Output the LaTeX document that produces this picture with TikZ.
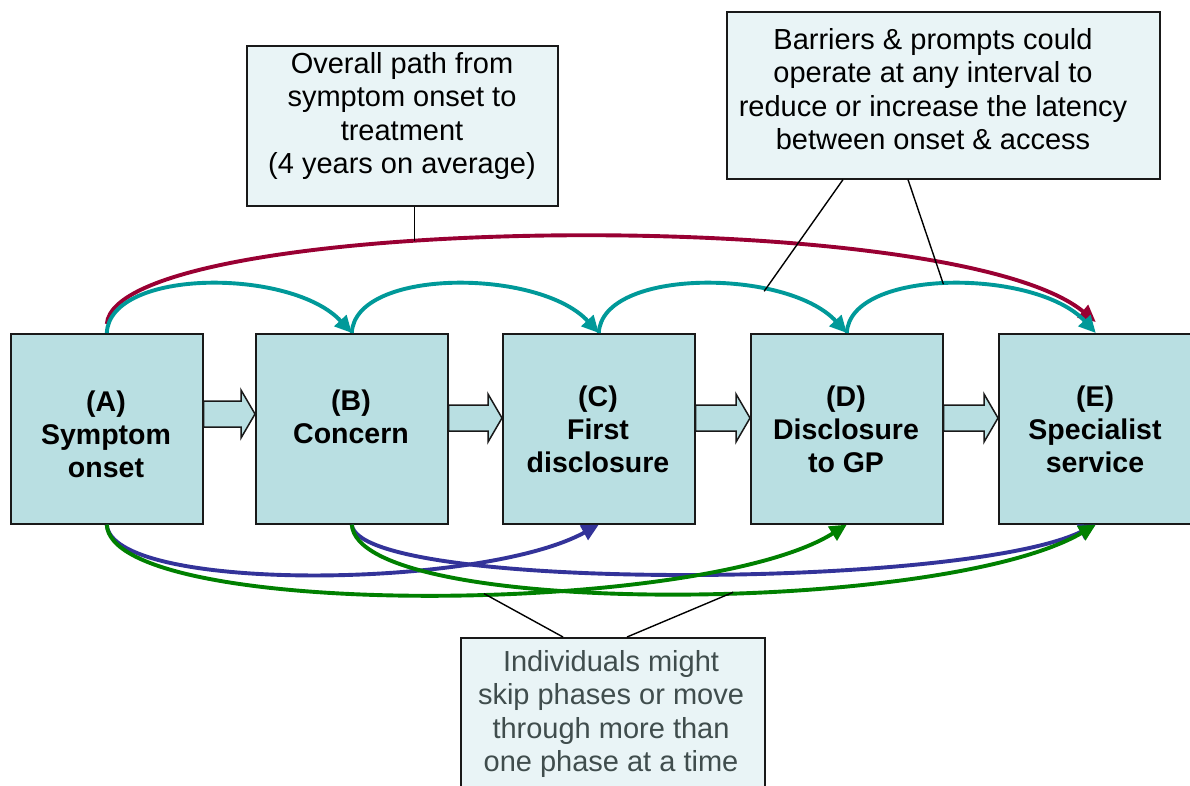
\documentclass[tikz,border=0pt]{standalone}
\usepackage{fontspec}
\setmainfont{Liberation Sans}
\usetikzlibrary{arrows.meta,calc}

\definecolor{stagefill}{HTML}{B9DFE2}
\definecolor{notefill}{HTML}{E9F4F6}
\definecolor{pathteal}{HTML}{009999}
\definecolor{pathred}{HTML}{990033}
\definecolor{pathblue}{HTML}{333399}
\definecolor{pathgreen}{HTML}{008000}
\definecolor{notegray}{HTML}{404D4D}

\tikzset{
  stage/.style={draw=black!90, line width=1.6pt, fill=stagefill,
    minimum width=192pt, minimum height=190pt, inner sep=0pt, anchor=north west},
  stagetext/.style={align=center, inner sep=0pt,
    font=\bfseries\fontsize{28.5}{33}\selectfont},
  note/.style={draw=black!90, line width=1.6pt, fill=notefill, inner sep=0pt,
    anchor=north west},
  notetext/.style={align=center, inner sep=0pt,
    font=\fontsize{29}{33.5}\selectfont},
  flow/.style={line width=3.9pt, -{Triangle[length=17pt,width=16pt]}},
  blockarr/.style={draw=black!90, line width=1.5pt, fill=stagefill, line join=miter},
  pointer/.style={draw=black, line width=1.4pt}
}

% wide block arrow from the east side of #1 to the west side of #2, on height #3
\newcommand\stagearrow[3]{%
  \path (#1.east |- 0,#3) coordinate (sa-#1) (#2.west |- 0,#3) coordinate (sb-#1);
  \draw[blockarr] ($(sa-#1)+(0,-13)$) -- ($(sb-#1)+(-14,-13)$) -- ($(sb-#1)+(-14,-24)$)
    -- (sb-#1) -- ($(sb-#1)+(-14,24)$) -- ($(sb-#1)+(-14,13)$) -- ($(sa-#1)+(0,13)$) -- cycle;
}

\begin{document}
\begin{tikzpicture}[x=1pt,y=-1pt]
\useasboundingbox (0,0) rectangle (1190,785);
\clip (0,0) rectangle (1190,785);
\fill[white] (0,0) rectangle (1190,785);

% stages
\node[stage] (A) at (10,333) {};
\node[stage] (B) at (255,333) {};
\node[stage] (C) at (502,333) {};
\node[stage] (D) at (750,333) {};
\node[stage, minimum width=194pt] (E) at (998,333) {};

\node[stagetext] (At) at (106,434) {(A)\\Symptom\\onset};
\node[stagetext] (Bt) at (351,417) {(B)\\Concern};
\node[stagetext] (Ct) at (598,429) {(C)\\First\\disclosure};
\node[stagetext] (Dt) at (846,429) {(D)\\Disclosure\\to GP};
\node[stagetext] (Et) at (1095,429) {(E)\\Specialist\\service};

% block arrows between consecutive stages
\stagearrow{A}{B}{414}
\stagearrow{B}{C}{418}
\stagearrow{C}{D}{418}
\stagearrow{D}{E}{418}

% notes
\node[note, minimum width=311pt, minimum height=160pt] (ov) at (246,45) {};
\node[notetext] (ovt) at (402,116) {Overall path from\\symptom onset to\\treatment\\(4 years on average)};
\node[note, minimum width=433pt, minimum height=167pt] (bar) at (726,11) {};
\node[notetext] (bart) at (933,89) {Barriers \& prompts could\\operate at any interval to\\reduce or increase the latency\\between onset \& access};
\node[note, minimum width=304pt, minimum height=165pt] (skip) at (460,637) {};
\node[notetext, text=notegray] (skipt) at (611,714) {Individuals might\\skip phases or move\\through more than\\one phase at a time};

% overall path
\draw[flow, pathred] ([yshift=9pt]A.north) .. controls +(9,-110) and +(-145,-120) .. ([yshift=11pt]E.north)
  coordinate[pos=0.398] (r1);

% phase-to-phase steps
\draw[flow, pathteal] (A.north) .. controls +(3,-65) and +(-60,-65) .. (B.north);
\draw[flow, pathteal] (B.north) .. controls +(3,-65) and +(-60,-65) .. (C.north);
\draw[flow, pathteal] (C.north) .. controls +(3,-65) and +(-60,-65) .. (D.north)
  coordinate[pos=0.69] (t1);
\draw[flow, pathteal] (D.north) .. controls +(3,-65) and +(-60,-65) .. (E.north)
  coordinate[pos=0.48] (t2);

% skipped phases
\draw[flow, pathblue] (A.south) .. controls +(4,68) and +(-118,65) .. (C.south);
\draw[flow, pathblue] (B.south) .. controls +(6,67) and +(-133,65) .. (E.south);
\draw[flow, pathgreen] (A.south) .. controls +(4,95) and +(-146,92) .. (D.south)
  coordinate[pos=0.56] (g1);
\draw[flow, pathgreen] (B.south) .. controls +(6,94) and +(-153,90) .. (E.south)
  coordinate[pos=0.564] (g2);

% pointers from the notes
\draw[pointer] (r1 |- ov.south) -- (r1);
\draw[pointer] ([xshift=117pt]bar.south west) -- (t1);
\draw[pointer] ([xshift=182pt]bar.south west) -- (t2);
\draw[pointer] ([xshift=103pt]skip.north west) -- (g1);
\draw[pointer] ([xshift=167pt]skip.north west) -- (g2);
\end{tikzpicture}
\end{document}
